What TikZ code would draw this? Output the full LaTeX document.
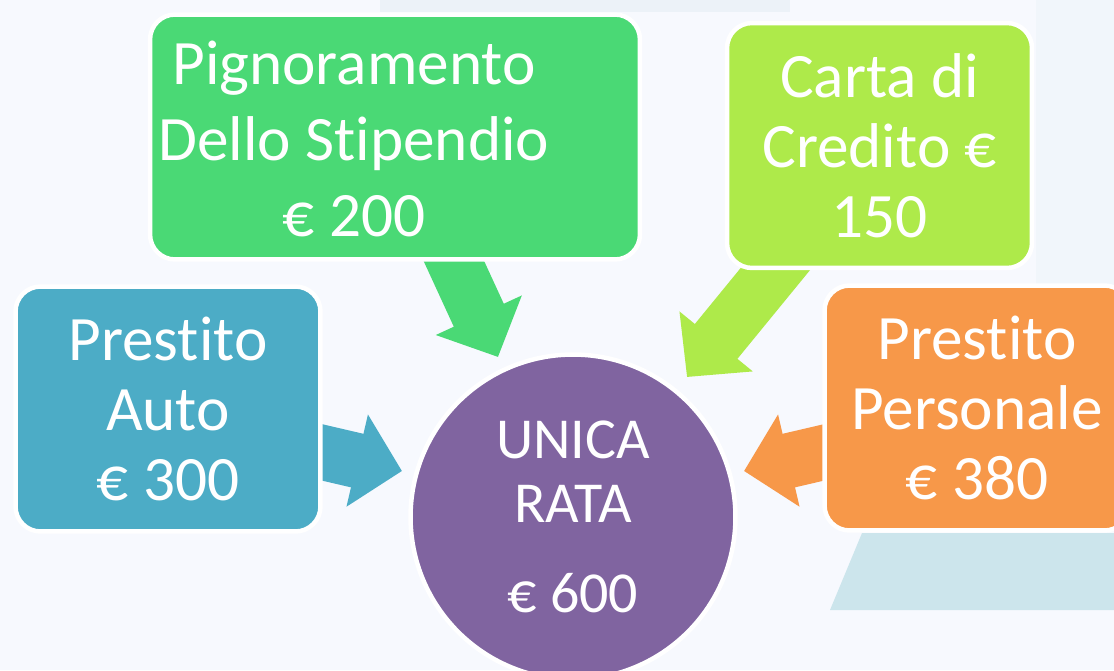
\documentclass[tikz,border=0pt]{standalone}
\usepackage{fontspec}
\setmainfont[Ligatures={NoCommon}]{Carlito}
\usetikzlibrary{arrows.meta}
\definecolor{sfondo}{RGB}{247,249,254}
\definecolor{velo}{RGB}{236,242,248}
\definecolor{acqua}{RGB}{204,229,236}
\definecolor{verde}{RGB}{74,217,117}
\definecolor{lime}{RGB}{174,234,74}
\definecolor{azzurro}{RGB}{76,172,198}
\definecolor{arancio}{RGB}{247,152,73}
\definecolor{viola}{RGB}{128,100,160}
\begin{document}
\begin{tikzpicture}[x=0.02cm, y=-0.02cm]
	\tikzstyle{Riquadro} = [rectangle, rounded corners=0.5cm, minimum width=6.1cm, minimum height=4.9cm, draw=white, line width=0.09cm, text=white, align=center, font=\fontsize{36}{39.7}\selectfont]
	\tikzstyle{Testo} = [text=white, align=center, font=\fontsize{36}{43.5}\selectfont]
	\tikzstyle{Cerchio} = [circle, minimum size=6.5cm, inner sep=0pt, draw=white, line width=0.09cm, fill=viola, text=white, align=center, font=\fontsize{33}{36.3}\selectfont]
	\tikzstyle{Freccia} = [line width=1.1cm, -{Triangle[length=0.92cm, width=1.84cm]}]
	
	\useasboundingbox (0,0) rectangle (1114,670);
	\clip (0,0) rectangle (1114,670);
	\fill [sfondo] (0,0) rectangle (1114,670);
	\fill [velo] (380,0) rectangle (790,12);
	\fill [velo!50!sfondo] (1036,0) rectangle (1114,290);
	\fill [acqua] (862,533) -- (1114,533) -- (1114,610) -- (830,610) -- cycle;
	
	\coordinate (pig-a) at (435,220);
	\coordinate (pig-b) at (498,357);
	\coordinate (car-a) at (813,223);
	\coordinate (car-b) at (687,377);
	\coordinate (aut-a) at (256,437);
	\coordinate (aut-b) at (402,471);
	\coordinate (per-a) at (890,437);
	\coordinate (per-b) at (744,471);
	\draw [Freccia, verde] (pig-a) -- (pig-b);
	\draw [Freccia, lime] (car-a) -- (car-b);
	\draw [Freccia, azzurro] (aut-a) -- (aut-b);
	\draw [Freccia, arancio] (per-a) -- (per-b);
	
	\node (pig) [Riquadro, fill=verde, minimum width=9.8cm] at (395,137) {};
	\node (pig-t) [Testo] at (354,139) {Pignoramento\\Dello Stipendio\\€ 200};
	\node (car) [Riquadro, fill=lime] at (879.5,145.5) {Carta di\\Credito €\\150};
	\node (aut) [Riquadro, fill=azzurro] at (168,409) {Prestito\\Auto\\€ 300};
	\node (per) [Riquadro, fill=arancio] at (977,408) {Prestito\\Personale\\€ 380};
	\node (rata) [Cerchio] at (573,517) {UNICA\\RATA\\[15pt]€ 600};
\end{tikzpicture}
\end{document}
